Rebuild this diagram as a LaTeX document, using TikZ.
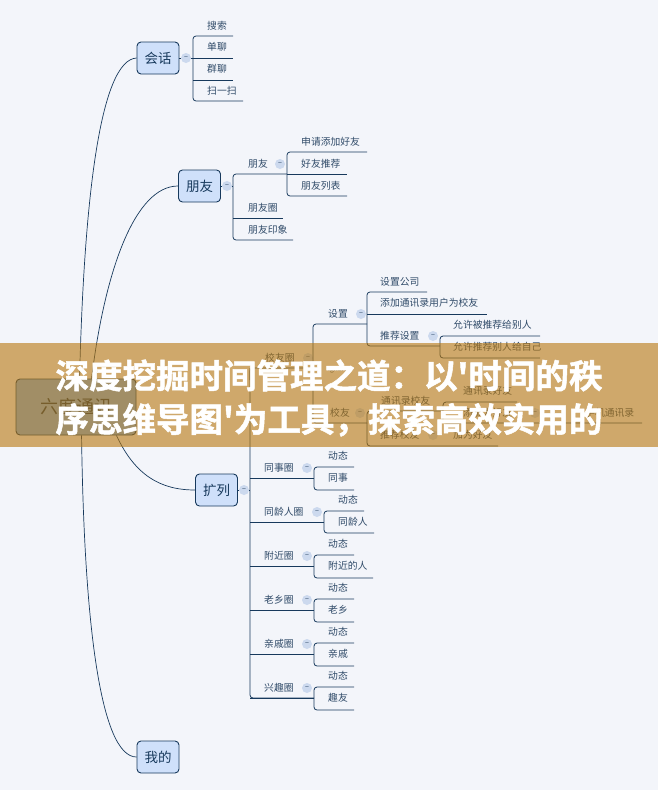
\documentclass[tikz,border=0pt]{standalone}
\usepackage{fontspec}
\setmainfont{Noto Sans CJK SC}
\newfontfamily\ttlfont[FakeBold=1.5]{Noto Sans CJK SC Bold}
\definecolor{bgc}{HTML}{F3F5FA}
\definecolor{linec}{HTML}{17395C}
\definecolor{boxc}{HTML}{CFE0FA}
\definecolor{rootc}{HTML}{80B4ED}
\definecolor{minusc}{HTML}{CCD9EE}
\definecolor{banc}{HTML}{B7760C}
\definecolor{txtc}{HTML}{2F4A68}
\tikzset{
  main/.style={draw=linec,line width=.9pt,fill=boxc,rounded corners=4pt,minimum height=32pt,inner sep=0pt,text=linec,font=\fontsize{13.5}{13.5}\selectfont},
  leaf/.style={anchor=west,inner sep=0pt,text=txtc,font=\fontsize{9.8}{10}\selectfont},
  conn/.style={draw=linec,line width=.8pt,rounded corners=3pt},
  curve/.style={draw=linec,line width=.7pt},
  mn/.style={circle,fill=minusc,minimum size=10pt,inner sep=0pt,text=txtc,font=\fontsize{7}{7}\selectfont},
}
\begin{document}
\begin{tikzpicture}[x=1pt,y=-1pt]
\useasboundingbox (0,0) rectangle (658,790);
\fill[bgc] (0,0) rectangle (658,790);
% main nodes
\node[main,fill=rootc,minimum width=120pt,minimum height=56pt,font=\fontsize{18}{18}\selectfont] (root) at (76,407) {六度通讯};
\node[main,minimum width=42pt] (hh) at (158,58) {会话};
\node[main,minimum width=42pt] (py) at (199.5,186) {朋友};
\node[main,minimum width=42pt] (kl) at (216.5,490) {扩列};
\node[main,minimum width=42pt] (wd) at (158,757) {我的};
\draw[curve] (root.north west)+(64,0) .. controls (84,200) and (100,60) .. (hh.west);
\draw[curve] (root.north west)+(76,0) .. controls (105,270) and (135,186) .. (py.west);
\draw[curve] (root.south east)+(-20,0) .. controls (135,475) and (160,490) .. (kl.west);
\draw[curve] (root.south west)+(66,0) .. controls (84,620) and (100,757) .. (wd.west);
% hh
\node[mn] (m1) at (186,58) {−};
\foreach \n/\t/\y in {a1/搜索/26,a2/单聊/47,a3/群聊/69,a4/扫一扫/91}{\node[leaf] (\n) at (207,\y) {\t};}
\draw[conn] (hh.east) -- (m1);
\draw[conn] (m1) -- (233,58);
\draw[conn] (233,36) -- (193,36) -- (193,101) -- (243,101);
\draw[conn] (193,80) -- (233,80);
% py
\node[mn] (m2) at (227,186) {−};
\draw[conn] (py.east) -- (m2) -- (233,186);
\node[leaf] (b1) at (248,164) {朋友};
\node[leaf] (b2) at (248,208) {朋友圈};
\node[leaf] (b3) at (248,230) {朋友印象};
\node[mn] (m3) at (280,164) {−};
\draw[conn] (287,174) -- (233,174) -- (233,240) -- (293,240);
\draw[conn] (233,218) -- (283,218);
\node[leaf] (c1) at (301,142) {申请添加好友};
\node[leaf] (c2) at (301,164) {好友推荐};
\node[leaf] (c3) at (301,186) {朋友列表};
\draw[conn] (367,152) -- (287,152) -- (287,196) -- (347,196);
\draw[conn] (287,174) -- (347,174);
% xiaoyou
\node[leaf] (d0) at (265,358) {校友圈};
\node[mn] (m4) at (308,358) {−};
\draw[conn] (250,380) -- (250,368) -- (313,368);
\node[leaf] (d1) at (328,314) {设置};
\node[mn] (m5) at (361,314) {−};
\draw[conn] (367,324) -- (313,324) -- (313,423) -- (367,423);
\node[leaf] (e1) at (380,282) {设置公司};
\node[leaf] (e2) at (380,303) {添加通讯录用户为校友};
\node[leaf] (e3) at (380,336) {推荐设置};
\node[mn] (m6) at (433,336) {−};
\draw[conn] (427,292) -- (367,292) -- (367,346) -- (440,346);
\draw[conn] (367,314) -- (487,314);
\node[leaf] (f1) at (453,325) {允许被推荐给别人};
\node[leaf] (f2) at (453,347) {允许推荐别人给自己};
\draw[conn] (540,336) -- (440,336) -- (440,358) -- (540,358);
\node[leaf,font=\fontsize{6.5}{6.5}\selectfont] (d2) at (328,370) {Ignore};
\node[leaf] (d3) at (330,413) {校友};
\node[mn] (m7) at (360,413) {−};
\node[leaf] (g1) at (381,401) {通讯录校友};
\node[leaf] (g2) at (380,435) {推荐校友};
\node[mn] (m8) at (433,435) {−};
\node[leaf] (g3) at (463,391) {通讯录好友};
\node[leaf] (g4) at (463,413) {添加为好友};
\node[mn] (m10) at (535,413) {−};
\node[leaf] (g5) at (453,435) {加为好友};
\node[leaf] (g6) at (585,413) {手机通讯录};
\draw[conn] (367,423) -- (367,411) -- (443,411);
\draw[conn] (367,423) -- (367,446) -- (498,446);
\draw[conn] (517,402) -- (443,402) -- (443,423) -- (642,423);
% kl
\node[mn] (m9) at (244,490) {−};
\draw[conn] (kl.east) -- (m9) -- (250,490);
\draw[conn] (250,368) -- (250,698) -- (314,698);
\foreach \nm/\t/\y/\e in {k1/同事圈/468/354,k3/附近圈/556/373,k4/老乡圈/600/354,k5/亲戚圈/644/354,k6/兴趣圈/688/354}{
  \node[leaf] (\nm) at (264,\y) {\t};
  \node[mn] (\nm m) at (307,\y) {−};
  \draw[conn] (250,\y+10) -- (314,\y+10);
  \draw[conn] (354,\y-1) -- (314,\y-1) -- (314,\y+22) -- (\e,\y+22);
}
\node[leaf] (k2) at (264,512) {同龄人圈};
\node[mn] (k2m) at (317,512) {−};
\draw[conn] (250,522) -- (324,522);
\draw[conn] (364,511) -- (324,511) -- (324,533) -- (374,533);
\foreach \n/\t/\x/\y in {l1/动态/328/456,l2/同事/328/478,l3/动态/338/500,l4/同龄人/338/522,l5/动态/328/544,l6/附近的人/328/566,l7/动态/328/588,l8/老乡/328/610,l9/动态/328/632,l10/亲戚/328/654,l11/动态/328/676,l12/趣友/328/698}{
  \node[leaf] (\n) at (\x,\y) {\t};
}
\fill[banc,opacity=.6] (0,343) rectangle (658,447);
\node[inner sep=0pt,align=center,text=white,font=\ttlfont\fontsize{33.5}{43.5}\selectfont] (title) at (329,398) {深度挖掘时间管理之道：以'时间的秩\\序思维导图'为工具，探索高效实用的};
\end{tikzpicture}
\end{document}
